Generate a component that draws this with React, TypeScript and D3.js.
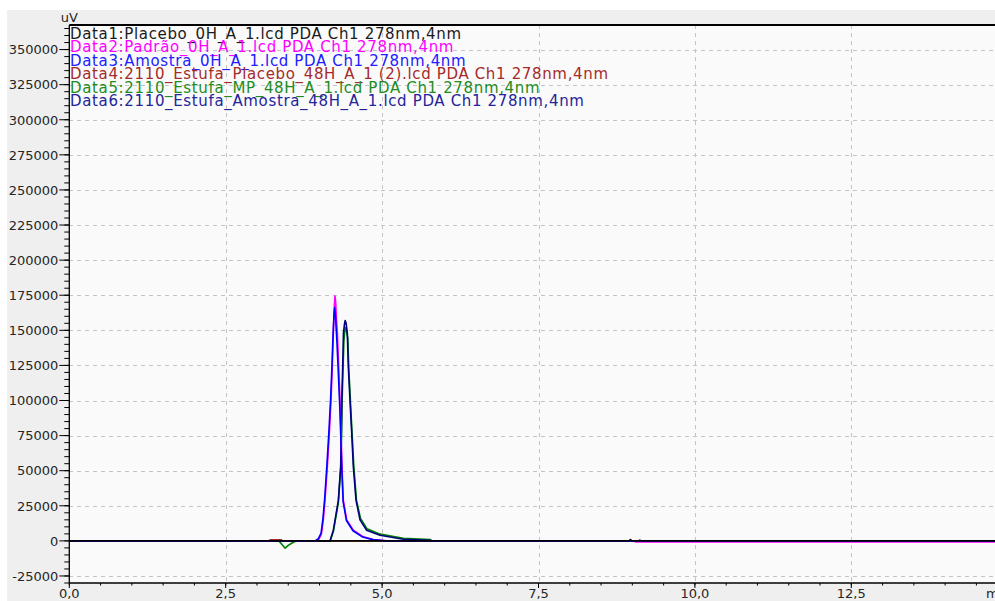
import React from "react";
import * as d3 from "d3";

// Chromatogram traces: [retention time (min), signal (uV)]
const data1Placebo0H: [number, number][] = [
  [0, 0], [8.95, 0], [8.97, 1000], [8.99, 0], [9.1, 0], [9.12, 600], [9.14, 0], [15, 0],
];
const data2Padrao0H: [number, number][] = [
  [0, 0], [3.95, 0], [3.99, 1200], [4.03, 5000], [4.06, 15000], [4.087, 29000], [4.125, 53000],
  [4.157, 77000], [4.183, 100000], [4.204, 124000], [4.222, 150000], [4.237, 168000],
  [4.247, 174500], [4.258, 170000], [4.27, 158000], [4.285, 148000], [4.306, 124000],
  [4.327, 100000], [4.343, 77000], [4.359, 53000], [4.38, 29000], [4.434, 15000],
  [4.54, 7600], [4.7, 2900], [4.86, 1000], [5.07, 0], [9.02, 0], [9.05, -700], [15, -700],
];
const data3Amostra0H: [number, number][] = [
  [0, 0], [3.45, 0], [3.63, 0], [3.93, 0], [3.98, 1500], [4.025, 5500], [4.055, 16000],
  [4.082, 30000], [4.118, 54000], [4.15, 78000], [4.177, 101000], [4.198, 124000],
  [4.215, 146000], [4.232, 162000], [4.242, 166000], [4.255, 160000], [4.28, 140000],
  [4.302, 118000], [4.323, 96000], [4.34, 74000], [4.356, 51000], [4.377, 28000],
  [4.43, 14500], [4.535, 7200], [4.69, 2700], [4.85, 900], [5.05, 0], [15, 0],
];
const data4Placebo48H: [number, number][] = [
  [0, 0], [3.19, 0], [3.21, 700], [3.39, 700], [3.41, 0], [15, 0],
];
const data5MP48H: [number, number][] = [
  [0, 0], [3.35, 0], [3.4, -2600], [3.45, -5200], [3.5, -3200], [3.56, -1500], [3.63, 0],
  [4.17, 0], [4.222, 7000], [4.3, 27000], [4.338, 51000], [4.352, 75000], [4.36, 98000],
  [4.375, 122000], [4.39, 143000], [4.41, 152000], [4.43, 150000], [4.452, 144000],
  [4.468, 122000], [4.494, 99000], [4.521, 76000], [4.548, 53000], [4.59, 29000],
  [4.655, 16000], [4.76, 8600], [4.97, 4800], [5.34, 1900], [5.77, 900], [5.8, 0], [15, 0],
];
const data6Amostra48H: [number, number][] = [
  [0, 0], [4.167, 0], [4.221, 7600], [4.301, 29000], [4.338, 53000], [4.348, 77000],
  [4.356, 100000], [4.37, 124000], [4.382, 148000], [4.4, 155000], [4.41, 157000],
  [4.425, 155000], [4.444, 148000], [4.46, 124000], [4.487, 100000], [4.514, 77000],
  [4.54, 53000], [4.583, 29000], [4.647, 15000], [4.753, 7600], [4.966, 4000],
  [5.339, 1200], [5.766, 500], [5.8, 0], [15, 0],
];

const legendLabels = [
  "Data1:Placebo_0H_A_1.lcd PDA Ch1 278nm,4nm",
  "Data2:Padrão_0H_A_1.lcd PDA Ch1 278nm,4nm",
  "Data3:Amostra_0H_A_1.lcd PDA Ch1 278nm,4nm",
  "Data4:2110_Estufa_Placebo_48H_A_1 (2).lcd PDA Ch1 278nm,4nm",
  "Data5:2110_Estufa_MP_48H_A_1.lcd PDA Ch1 278nm,4nm",
  "Data6:2110_Estufa_Amostra_48H_A_1.lcd PDA Ch1 278nm,4nm",
];
const seriesColors = ["#000000", "#ff00ff", "#0000ff", "#a52a2a", "#008000", "#000080"];
const legendColors = ["#1a1a1a", "#ff00ff", "#2020ff", "#a52a2a", "#1e8c1e", "#24249a"];
const seriesData = [data1Placebo0H, data2Padrao0H, data3Amostra0H, data4Placebo48H, data5MP48H, data6Amostra48H];
// paint order (index into seriesData): later entries sit on top
const drawOrder = [3, 4, 5, 1, 2, 0];

const yTickValues = [-25000, 0, 25000, 50000, 75000, 100000, 125000, 150000, 175000, 200000,
  225000, 250000, 275000, 300000, 325000, 350000];
const xTickValues = [0, 2.5, 5, 7.5, 10, 12.5];

const W = 995;
const H = 601;
const plot = { left: 69.3, top: 25, right: 1007.7, bottom: 583 };
const FONT = "'DejaVu Sans', Verdana, sans-serif";

export default function App() {
  const x = d3.scaleLinear().domain([0, 15]).range([plot.left, plot.right]);
  const y = d3.scaleLinear().domain([-30000, 367500]).range([plot.bottom, plot.top]);
  const line = d3.line<[number, number]>().x((d) => x(d[0])).y((d) => y(d[1]));

  const yMinor = d3.range(-30000, 367500, 5000);
  const xMinor = d3.range(0, 15.01, 0.5);
  const fmtX = (v: number) => d3.format(".1f")(v).replace(".", ",");

  return (
    <svg width={W} height={H} style={{ position: "absolute", left: 0, top: 0, display: "block" }}>
      <rect x={0} y={0} width={W} height={H} fill="#ffffff" />
      <rect x={7} y={10} width={W - 7} height={H - 10} fill="#efefef" />
      <rect x={plot.left} y={plot.top} width={plot.right - plot.left} height={plot.bottom - plot.top} fill="#fafafa" />
      <defs>
        <clipPath id="plotClip">
          <rect x={plot.left} y={plot.top} width={plot.right - plot.left} height={plot.bottom - plot.top} />
        </clipPath>
      </defs>

      {/* dashed grid */}
      <g stroke="#c4c4c4" strokeWidth={1} strokeDasharray="4,4" shapeRendering="crispEdges">
        {yTickValues.filter((v) => v !== 0).map((v) => (
          <line key={"gy" + v} x1={plot.left} x2={plot.right} y1={Math.round(y(v)) + 0.5} y2={Math.round(y(v)) + 0.5} />
        ))}
        {xTickValues.filter((v) => v !== 0).map((v) => (
          <line key={"gx" + v} x1={Math.round(x(v)) + 0.5} x2={Math.round(x(v)) + 0.5} y1={plot.top} y2={plot.bottom} />
        ))}
      </g>

      {/* traces */}
      <g clipPath="url(#plotClip)" fill="none" strokeWidth={1.6} strokeLinejoin="round">
        {drawOrder.map((i) => (
          <path key={"s" + i} d={line(seriesData[i]) || ""} stroke={seriesColors[i]} />
        ))}
      </g>

      {/* frame and axes */}
      <line x1={plot.left} x2={W} y1={plot.top} y2={plot.top} stroke="#000" strokeWidth={2} />
      <line x1={plot.left} x2={plot.left} y1={plot.top} y2={plot.bottom} stroke="#000" strokeWidth={1.3} />
      <line x1={plot.left} x2={W} y1={plot.bottom} y2={plot.bottom} stroke="#000" strokeWidth={1.3} />

      <g stroke="#000" strokeWidth={1}>
        {yMinor.map((v) => (
          <line key={"ym" + v} x1={plot.left - 5} x2={plot.left} y1={y(v)} y2={y(v)} />
        ))}
        {yTickValues.map((v) => (
          <line key={"yt" + v} x1={plot.left - 10} x2={plot.left} y1={y(v)} y2={y(v)} />
        ))}
        {xMinor.map((v) => (
          <line key={"xm" + v} x1={x(v)} x2={x(v)} y1={plot.bottom} y2={plot.bottom + 2.5} />
        ))}
        {xTickValues.map((v) => (
          <line key={"xt" + v} x1={x(v)} x2={x(v)} y1={plot.bottom} y2={plot.bottom + 5} />
        ))}
      </g>

      <g fontFamily={FONT} fontSize={13} fill="#262626">
        {yTickValues.map((v) => (
          <text key={"yl" + v} x={plot.left - 11} y={y(v) + 4.8} textAnchor="end">{String(v)}</text>
        ))}
        {xTickValues.map((v) => (
          <text key={"xl" + v} x={x(v)} y={598} textAnchor="middle">{fmtX(v)}</text>
        ))}
        <text x={986} y={598}>min</text>
        <text x={plot.left} y={22} textAnchor="middle">uV</text>
      </g>

      {/* legend */}
      <g fontFamily={FONT} fontSize={15} letterSpacing={0.65}>
        {legendLabels.map((t, i) => (
          <text key={"lg" + i} x={70} y={38.5 + i * 13.5} fill={legendColors[i]}>{t}</text>
        ))}
      </g>
    </svg>
  );
}
